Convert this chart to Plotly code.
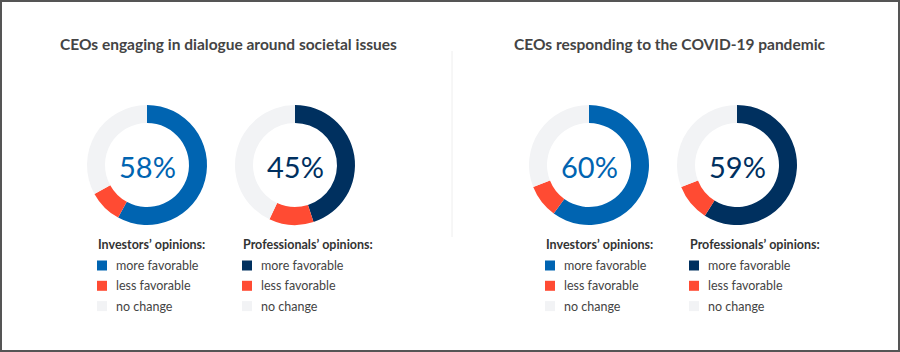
import plotly.graph_objects as go

# ---- data ----
categories = ["more favorable", "less favorable", "no change"]
inv_societal = [58, 9, 33]
pro_societal = [45, 12, 43]
inv_covid = [60, 9, 31]
pro_covid = [59, 10, 31]
section_titles = ["CEOs engaging in dialogue around societal issues",
                  "CEOs responding to the COVID-19 pandemic"]
legend_titles = ["Investors’ opinions:", "Professionals’ opinions:"]

BLUE = "#0064B1"
NAVY = "#00305F"
RED = "#FF4B33"
GRAY = "#F2F3F5"

W, H = 900, 352
FONT = "Lato"

fig = go.Figure()

charts = [
    (inv_societal, BLUE, 147, 97),
    (pro_societal, NAVY, 295, 242),
    (inv_covid, BLUE, 589, 545),
    (pro_covid, NAVY, 737, 689),
]
cy = 165
R = 60

annotations = []
shapes = []

for i, (vals, col, cx, lx) in enumerate(charts):
    fig.add_trace(go.Pie(
        labels=categories, values=vals, hole=0.70, sort=False,
        direction="clockwise", rotation=0,
        marker=dict(colors=[col, RED, GRAY], line=dict(width=0)),
        textinfo="none", hoverinfo="label+percent", showlegend=False,
        domain=dict(x=[(cx - R) / W, (cx + R) / W],
                    y=[1 - (cy + R) / H, 1 - (cy - R) / H]),
    ))
    annotations.append(dict(
        x=cx / W, y=1 - (cy + 2) / H, xref="paper", yref="paper",
        text=f"{vals[0]}%", showarrow=False,
        font=dict(family=FONT, size=29, color=col, weight=400),
        xanchor="center", yanchor="middle"))
    # legend
    annotations.append(dict(
        x=(lx - 1) / W, y=1 - 244 / H, xref="paper", yref="paper",
        text=legend_titles[i % 2], showarrow=False,
        font=dict(family=FONT, size=12.5, color="#333333", weight="bold"),
        xanchor="left", yanchor="middle"))
    for j, (cat, c) in enumerate(zip(categories, [col, RED, GRAY])):
        yy = 265.5 + j * 20.3
        shapes.append(dict(type="rect", xref="paper", yref="paper",
                           x0=lx / W, x1=(lx + 10) / W,
                           y0=1 - (yy + 5) / H, y1=1 - (yy - 5) / H,
                           fillcolor=c, line=dict(width=0)))
        annotations.append(dict(
            x=(lx + 17) / W, y=1 - yy / H, xref="paper", yref="paper",
            text=cat, showarrow=False,
            font=dict(family=FONT, size=12.5, color="#444444"),
            xanchor="left", yanchor="middle"))

for t, tx in zip(section_titles, [229, 670]):
    annotations.append(dict(
        x=tx / W, y=1 - 44 / H, xref="paper", yref="paper", text=t,
        showarrow=False,
        font=dict(family=FONT, size=15.5, color="#444444", weight="bold"),
        xanchor="center", yanchor="middle"))

# divider
shapes.append(dict(type="line", xref="paper", yref="paper",
                   x0=452 / W, x1=452 / W, y0=1 - 51 / H, y1=1 - 237 / H,
                   line=dict(color="#EEEEEE", width=1)))
# border
shapes.append(dict(type="rect", xref="paper", yref="paper",
                   x0=1 / W, x1=1 - 1 / W, y0=1 / H, y1=1 - 1 / H,
                   line=dict(color="#555555", width=2)))

fig.update_layout(
    width=W, height=H, margin=dict(l=0, r=0, t=0, b=0),
    paper_bgcolor="white", plot_bgcolor="white",
    annotations=annotations, shapes=shapes, showlegend=False,
)

fig.write_html("out.html")
